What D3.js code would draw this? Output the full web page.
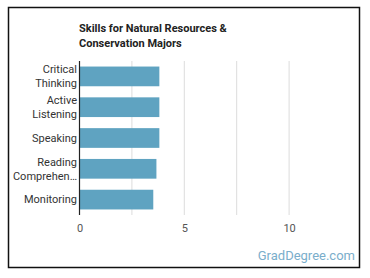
<!DOCTYPE html>
<html><head><meta charset="utf-8">
<script src="https://cdn.jsdelivr.net/npm/d3@7"></script>
<style>
html,body{margin:0;padding:0;background:#fff;}
svg{display:block;font-family:Roboto,"Noto Sans",sans-serif;}
</style></head>
<body>
<svg id="chart" width="370" height="278"></svg>
<script>
const categories = [["Critical","Thinking"],["Active","Listening"],["Speaking"],["Reading","Comprehen…"],["Monitoring"]];
const values = [3.81, 3.81, 3.81, 3.67, 3.52];
const tickValues = [0, 5, 10];
const gridValues = [2.5, 5, 7.5, 10];

const svg = d3.select("#chart");
svg.append("rect").attr("x",8.5).attr("y",7.5).attr("width",351).attr("height",260)
  .attr("fill","#fff").attr("stroke","#111").attr("stroke-width",1.5);

const x = d3.scaleLinear().domain([0,12.5]).range([79.5,341.5]);
const y = d3.scaleBand().domain(d3.range(categories.length)).range([61,215]).paddingInner(0.36).paddingOuter(0.18);

svg.append("g").selectAll("line").data(gridValues).join("line")
  .attr("x1",d=>x(d)).attr("x2",d=>x(d)).attr("y1",61).attr("y2",215)
  .attr("stroke","#dcdcdc").attr("stroke-width",1);

svg.append("g").selectAll("rect").data(values).join("rect")
  .attr("x",x(0)).attr("y",(d,i)=>y(i)).attr("width",d=>x(d)-x(0)).attr("height",y.bandwidth())
  .attr("fill","#5fa3c1");

svg.append("line").attr("x1",x(0)).attr("x2",x(0)).attr("y1",61).attr("y2",215)
  .attr("stroke","#222").attr("stroke-width",1.2);

const xAxis = d3.axisBottom(x).tickValues(tickValues).tickSize(0).tickPadding(0);
const gx = svg.append("g").attr("transform","translate(0,224)").call(xAxis);
gx.select(".domain").remove();
gx.selectAll("text").attr("font-size",11).attr("fill","#555").attr("font-family","Roboto,sans-serif");

const lab = svg.append("g");
categories.forEach((c,i)=>{
  const cy = y(i)+y.bandwidth()/2;
  const lh = 14;
  const t = lab.append("text").attr("x",77).attr("text-anchor","end")
    .attr("font-size",11).attr("fill","#333");
  c.forEach((s,j)=>{
    t.append("tspan").attr("x",77).attr("y",cy + (j-(c.length-1)/2)*lh).attr("dy","0.35em").text(s);
  });
});

svg.append("text").attr("x",79).attr("y",32).attr("font-size",11).attr("font-weight","bold").attr("fill","#222")
  .text("Skills for Natural Resources &");
svg.append("text").attr("x",79).attr("y",47).attr("font-size",11).attr("font-weight","bold").attr("fill","#222")
  .text("Conservation Majors");

svg.append("text").attr("x",355).attr("y",260).attr("text-anchor","end").attr("font-size",13)
  .attr("fill","#7aaecb").text("GradDegree.com");
</script>
</body></html>
